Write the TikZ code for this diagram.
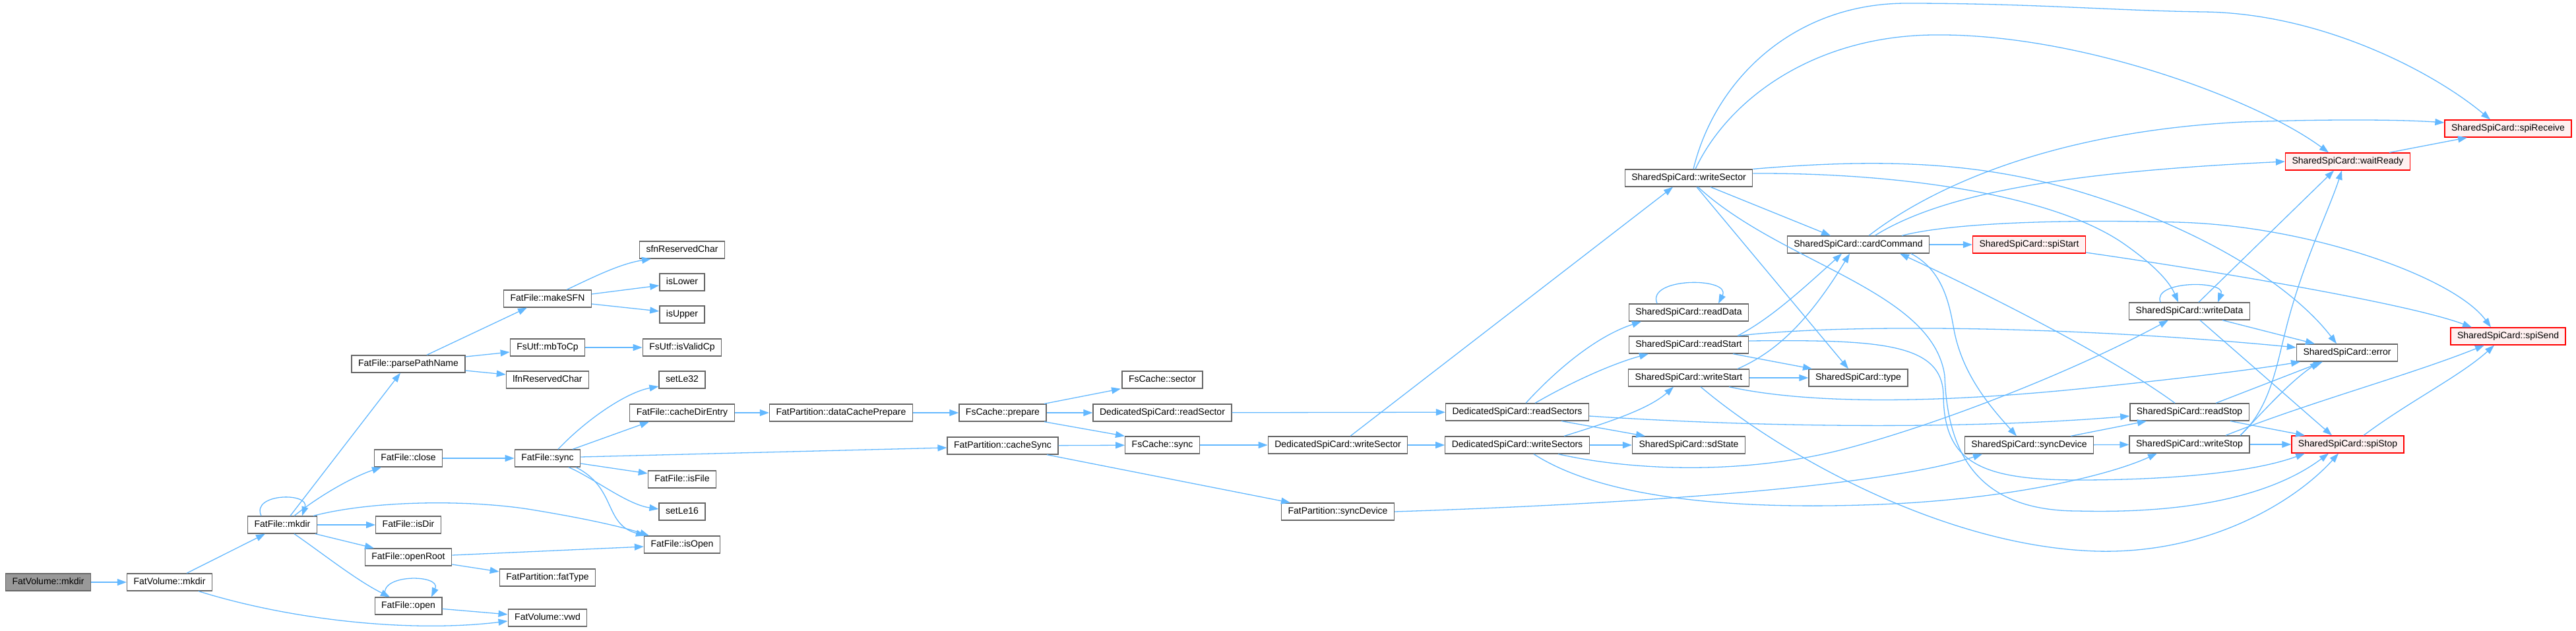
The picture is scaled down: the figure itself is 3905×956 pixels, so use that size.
\documentclass[tikz,border=0pt]{standalone}
\usepackage{fontspec}
\usetikzlibrary{arrows.meta}
\newfontfamily\graphfont{Liberation Sans}
\definecolor{edgeblue}{HTML}{63B8FF}
\definecolor{nodeline}{HTML}{666666}
\definecolor{rootfill}{HTML}{999999}
\definecolor{truncfill}{HTML}{FFF0F0}

\begin{document}
\begin{tikzpicture}[
    x=1pt, y=-1pt,
    fn/.style={draw=nodeline, fill=white, line width=1.3pt, minimum height=26pt,
               inner xsep=10pt, inner ysep=0pt, text height=10pt, text depth=3pt,
               font=\graphfont\fontsize{14}{16}\selectfont},
    fnroot/.style={fn, fill=rootfill},
    fntrunc/.style={fn, draw=red, fill=truncfill},
    call/.style={draw=edgeblue, line width=1.3pt, ->},
    >={Triangle[length=14pt,width=10pt]},
  ]
  \useasboundingbox (0,0) rectangle (3905,956);

  % left part: FatVolume / FatFile
  \node[fnroot] (src)      at (73,883)  {FatVolume::mkdir};
  \node[fn] (fvMkdir)      at (257,883) {FatVolume::mkdir};
  \node[fn] (ffMkdir)      at (428,796) {FatFile::mkdir};
  \node[fn] (parsePath)    at (619,552) {FatFile::parsePathName};
  \node[fn] (ffClose)      at (619,695) {FatFile::close};
  \node[fn] (isDir)        at (619,796) {FatFile::isDir};
  \node[fn] (openRoot)     at (619,845) {FatFile::openRoot};
  \node[fn] (ffOpen)       at (619,919) {FatFile::open};
  \node[fn] (makeSFN)      at (830,453) {FatFile::makeSFN};
  \node[fn] (mbToCp)       at (830,527) {FsUtf::mbToCp};
  \node[fn] (lfnRes)       at (830,576) {lfnReservedChar};
  \node[fn] (ffSync)       at (830,695) {FatFile::sync};
  \node[fn] (fatType)      at (830,876) {FatPartition::fatType};
  \node[fn] (vwd)          at (830,937) {FatVolume::vwd};
  \node[fn] (sfnRes)       at (1034,379) {sfnReservedChar};
  \node[fn] (isLower)      at (1034,428) {isLower};
  \node[fn] (isUpper)      at (1034,477) {isUpper};
  \node[fn] (isValidCp)    at (1034,527) {FsUtf::isValidCp};
  \node[fn] (setLeA)       at (1034,576) {setLe32};
  \node[fn] (cacheDir)     at (1034,626) {FatFile::cacheDirEntry};
  \node[fn] (isFile)       at (1034,727) {FatFile::isFile};
  \node[fn] (setLeB)       at (1034,776) {setLe16};
  \node[fn] (isOpen)       at (1034,826) {FatFile::isOpen};

  % cache and dedicated card
  \node[fn] (dataCache)    at (1275,626) {FatPartition::dataCachePrepare};
  \node[fn] (prepare)      at (1520,626) {FsCache::prepare};
  \node[fn] (cacheSync)    at (1520,676) {FatPartition::cacheSync};
  \node[fn] (sector)       at (1762,576) {FsCache::sector};
  \node[fn] (readSector)   at (1762,626) {DedicatedSpiCard::readSector};
  \node[fn] (fsSync)       at (1762,675) {FsCache::sync};
  \node[fn] (partSync)     at (2028,776) {FatPartition::syncDevice};
  \node[fn] (dWrite)       at (2028,675) {DedicatedSpiCard::writeSector};
  \node[fn] (readSectors)  at (2300,625) {DedicatedSpiCard::readSectors};
  \node[fn] (writeSectors) at (2300,675) {DedicatedSpiCard::writeSectors};

  % shared card
  \node[fn] (wSector)      at (2560,270) {SharedSpiCard::writeSector};
  \node[fn] (readData)     at (2560,474) {SharedSpiCard::readData};
  \node[fn] (readStart)    at (2560,523) {SharedSpiCard::readStart};
  \node[fn] (writeStart)   at (2560,573) {SharedSpiCard::writeStart};
  \node[fn] (sdState)      at (2560,675) {SharedSpiCard::sdState};
  \node[fn] (cardCmd)      at (2817,371) {SharedSpiCard::cardCommand};
  \node[fn] (cardType)     at (2817,573) {SharedSpiCard::type};
  \node[fntrunc] (spiStart) at (3076,371) {SharedSpiCard::spiStart};
  \node[fn] (devSync)      at (3076,675) {SharedSpiCard::syncDevice};
  \node[fn] (writeData)    at (3319,472) {SharedSpiCard::writeData};
  \node[fn] (readStop)     at (3319,625) {SharedSpiCard::readStop};
  \node[fn] (writeStop)    at (3319,674) {SharedSpiCard::writeStop};
  \node[fntrunc] (waitReady) at (3559,245) {SharedSpiCard::waitReady};
  \node[fn] (cardError)    at (3558,535) {SharedSpiCard::error};
  \node[fntrunc] (spiStop)  at (3559,674) {SharedSpiCard::spiStop};
  \node[fntrunc] (spiReceive) at (3802,195) {SharedSpiCard::spiReceive};
  \node[fntrunc] (spiSend)  at (3802,510) {SharedSpiCard::spiSend};

  % calls, left part
  \draw[call] (src) -- (fvMkdir);
  \draw[call] ([xshift=26pt]fvMkdir.north) -- ([xshift=-26pt]ffMkdir.south);
  \draw[call] ([xshift=44pt]fvMkdir.south) .. controls (440,940) and (620,960) .. ([yshift=-5pt]vwd.west);
  \draw[call] ([xshift=-32pt]ffMkdir.north) .. controls (380,748) and (470,746) .. ([xshift=30pt]ffMkdir.north);
  \draw[call] ([xshift=12pt]ffMkdir.north) -- ([xshift=-12pt]parsePath.south);
  \draw[call] ([xshift=18pt]ffMkdir.north) .. controls (480,755) and (530,725) .. ([xshift=-41pt]ffClose.south);
  \draw[call] ([xshift=47pt]ffMkdir.north) .. controls (560,760) and (700,757) .. (800,772)
              .. controls (880,785) and (940,798) .. ([xshift=-50pt]isOpen.north);
  \draw[call] (ffMkdir) -- (isDir);
  \draw[call] ([xshift=50pt]ffMkdir.south) -- ([xshift=-52pt]openRoot.north);
  \draw[call] ([xshift=18pt]ffMkdir.south) .. controls (490,840) and (540,880) .. ([xshift=-28pt]ffOpen.north);
  \draw[call] ([xshift=28pt]parsePath.north) -- ([xshift=-31pt]makeSFN.south);
  \draw[call] ([yshift=11pt]parsePath.east) -- ([yshift=-7pt]mbToCp.west);
  \draw[call] ([yshift=-10pt]parsePath.east) -- ([yshift=8pt]lfnRes.west);
  \draw[call] ([xshift=29pt]makeSFN.north) .. controls (900,420) and (940,400) .. ([xshift=-47pt]sfnRes.south);
  \draw[call] ([yshift=7pt]makeSFN.east) -- ([yshift=-5pt]isLower.west);
  \draw[call] ([yshift=-8pt]makeSFN.east) -- ([yshift=5pt]isUpper.west);
  \draw[call] (mbToCp) -- (isValidCp);
  \draw[call] (ffClose) -- (ffSync);
  \draw[call] ([xshift=16pt]ffSync.north) .. controls (890,635) and (950,595) .. ([yshift=-10pt]setLeA.west);
  \draw[call] ([xshift=38pt]ffSync.north) -- ([xshift=-50pt]cacheDir.south);
  \draw[call] ([yshift=-8pt]ffSync.east) -- ([yshift=9pt]isFile.west);
  \draw[call] ([xshift=32pt]ffSync.south) .. controls (900,725) and (950,765) .. ([yshift=4pt]setLeB.west);
  \draw[call] ([xshift=43pt]ffSync.south) .. controls (935,740) and (915,795) .. ([xshift=-56pt]isOpen.north);
  \draw[call] ([yshift=2pt]ffSync.east) -- ([yshift=-3pt]cacheSync.west);
  \draw[call] ([yshift=3pt]openRoot.east) -- ([yshift=-3pt]isOpen.west);
  \draw[call] ([yshift=-11pt]openRoot.east) -- ([yshift=9pt]fatType.west);
  \draw[call] ([xshift=-34pt]ffOpen.north) .. controls (570,870) and (670,870) .. ([xshift=35pt]ffOpen.north);
  \draw[call] (ffOpen) -- (vwd);

  % calls, cache part
  \draw[call] (cacheDir) -- (dataCache);
  \draw[call] (dataCache) -- (prepare);
  \draw[call] ([xshift=63pt]prepare.north) -- ([xshift=-63pt]sector.south);
  \draw[call] (prepare) -- (readSector);
  \draw[call] ([xshift=63pt]prepare.south) -- ([xshift=-57pt]fsSync.north);
  \draw[call] (cacheSync) -- (fsSync);
  \draw[call] ([xshift=67pt]cacheSync.south) -- ([xshift=-72pt]partSync.north);
  \draw[call] (readSector) -- (readSectors);
  \draw[call] (fsSync) -- (dWrite);
  \draw[call] (dWrite) -- (writeSectors);
  \draw[call] ([xshift=19pt]dWrite.north) -- ([xshift=-24pt]wSector.south);
  \draw[call] (partSync.east) .. controls (2450,765) and (2850,740) .. ([xshift=-71pt]devSync.south);

  % calls, dedicated card to shared card
  \draw[call] ([xshift=13pt]readSectors.north) .. controls (2360,560) and (2420,510) .. ([xshift=-72pt]readData.south);
  \draw[call] ([xshift=27pt]readSectors.north) .. controls (2390,575) and (2450,550) .. ([xshift=-61pt]readStart.south);
  \draw[call] ([xshift=67pt]readSectors.south) -- ([xshift=-66pt]sdState.north);
  \draw[call] ([yshift=-6pt]readSectors.east) .. controls (2700,650) and (3000,650) .. ([yshift=-6pt]readStop.west);
  \draw[call] ([xshift=71pt]writeSectors.north) .. controls (2440,640) and (2500,620) .. ([xshift=-23pt]writeStart.south);
  \draw[call] (writeSectors) -- (sdState);
  \draw[call] ([xshift=62pt]writeSectors.south) .. controls (2480,715) and (2650,720) .. (2800,680)
              .. controls (2950,640) and (3150,560) .. ([xshift=-32pt]writeData.south);
  \draw[call] ([xshift=25pt]writeSectors.south) .. controls (2420,750) and (2600,775) .. (2850,765)
              .. controls (3050,757) and (3200,720) .. ([xshift=-49pt]writeStop.south);

  % calls, shared card
  \draw[call] ([xshift=7pt]wSector.north) .. controls (2600,120) and (2720,5) .. (2890,5)
              .. controls (3080,5) and (3200,16) .. (3340,18)
              .. controls (3520,20) and (3690,110) .. ([xshift=-27pt]spiReceive.north);
  \draw[call] ([xshift=10pt]wSector.north) .. controls (2620,150) and (2750,55) .. (2930,53)
              .. controls (3150,50) and (3420,150) .. ([xshift=-29pt]waitReady.north);
  \draw[call] (wSector.north east) .. controls (2850,240) and (3000,245) .. (3150,290)
              .. controls (3350,350) and (3480,440) .. ([xshift=-16pt]cardError.north);
  \draw[call] ([yshift=7pt]wSector.east) .. controls (2900,262) and (3120,300) .. (3220,370)
              .. controls (3270,405) and (3290,430) .. ([xshift=-17pt]writeData.north);
  \draw[call] ([xshift=33pt]wSector.south) -- ([xshift=-42pt]cardCmd.north);
  \draw[call] ([xshift=12pt]wSector.south) -- ([xshift=-15pt]cardType.north);
  \draw[call] ([xshift=14pt]wSector.south) .. controls (2700,400) and (2930,440) .. (2948,570)
              .. controls (2952,690) and (3000,775) .. (3150,775)
              .. controls (3350,780) and (3460,740) .. ([xshift=-29pt]spiStop.south);
  \draw[call] ([xshift=-48pt]readData.north) .. controls (2495,420) and (2625,420) .. ([xshift=45pt]readData.north);
  \draw[call] ([xshift=74pt]readStart.north) .. controls (2680,485) and (2720,450) .. ([xshift=-25pt]cardCmd.south);
  \draw[call] ([xshift=74pt]readStart.north) .. controls (2800,490) and (3150,495) .. ([yshift=8pt]cardError.west);
  \draw[call] ([xshift=67pt]readStart.south) -- ([xshift=-70pt]cardType.north);
  \draw[call] ([yshift=6pt]readStart.east) .. controls (2850,515) and (2945,520) .. (2946,600)
              .. controls (2947,700) and (3000,728) .. (3150,728)
              .. controls (3300,728) and (3420,715) .. ([xshift=-65pt]spiStop.south);
  \draw[call] ([xshift=74pt]writeStart.north) .. controls (2690,535) and (2740,490) .. ([xshift=-13pt]cardCmd.south);
  \draw[call] (writeStart) -- (cardType);
  \draw[call] ([xshift=61pt]writeStart.south) .. controls (2750,615) and (2950,610) .. (3150,590)
              .. controls (3300,575) and (3420,560) .. ([xshift=-71pt]cardError.south);
  \draw[call] ([xshift=18pt]writeStart.south) .. controls (2700,690) and (2950,830) .. (3180,836)
              .. controls (3350,840) and (3480,760) .. ([xshift=-14pt]spiStop.south);
  \draw[call] (cardCmd) -- (spiStart);
  \draw[call] ([xshift=16pt]cardCmd.north) .. controls (2920,290) and (3100,200) .. (3400,185)
              .. controls (3550,180) and (3650,182) .. ([yshift=9pt]spiReceive.west);
  \draw[call] ([xshift=25pt]cardCmd.north) .. controls (2950,290) and (3150,260) .. (waitReady.west);
  \draw[call] ([xshift=66pt]cardCmd.north) .. controls (2950,340) and (3100,332) .. (3300,337)
              .. controls (3500,342) and (3720,420) .. ([xshift=-26pt]spiSend.north);
  \draw[call] ([xshift=80pt]cardCmd.south) .. controls (2945,410) and (2955,460) .. (2962,500)
              .. controls (2975,570) and (3020,620) .. ([xshift=-19pt]devSync.north);
  \draw[call] ([yshift=-12pt]spiStart.east) .. controls (3350,410) and (3650,460) .. ([xshift=-55pt]spiSend.north);
  \draw[call] ([xshift=63pt]devSync.north) -- ([xshift=-65pt]readStop.south);
  \draw[call] (devSync) -- (writeStop);
  \draw[call] ([xshift=-44pt]writeData.north) .. controls (3262,425) and (3375,425) .. ([xshift=43pt]writeData.north);
  \draw[call] ([xshift=14pt]writeData.north) -- ([xshift=-21pt]waitReady.south);
  \draw[call] ([xshift=50pt]writeData.south) -- ([xshift=-49pt]cardError.north);
  \draw[call] ([xshift=16pt]writeData.south) -- ([xshift=-24pt]spiStop.north);
  \draw[call] ([xshift=-22pt]readStop.north) .. controls (3200,540) and (3000,440) .. ([xshift=63pt]cardCmd.south);
  \draw[call] ([xshift=40pt]readStop.north) -- ([xshift=-37pt]cardError.south);
  \draw[call] ([xshift=62pt]readStop.south) -- ([xshift=-65pt]spiStop.north);
  \draw[call] ([xshift=77pt]writeStop.north) .. controls (3440,620) and (3450,560) .. (3465,500)
              .. controls (3490,400) and (3530,320) .. ([xshift=-9pt]waitReady.south);
  \draw[call] ([xshift=77pt]writeStop.north) .. controls (3430,625) and (3470,580) .. ([xshift=-42pt]cardError.south);
  \draw[call] ([xshift=55pt]writeStop.north) .. controls (3500,610) and (3650,570) .. ([xshift=-36pt]spiSend.south);
  \draw[call] (writeStop) -- (spiStop);
  \draw[call] ([xshift=63pt]waitReady.north) -- ([xshift=-62pt]spiReceive.south);
  \draw[call] ([xshift=24pt]spiStop.north) .. controls (3650,610) and (3730,570) .. ([xshift=-21pt]spiSend.south);
\end{tikzpicture}
\end{document}
